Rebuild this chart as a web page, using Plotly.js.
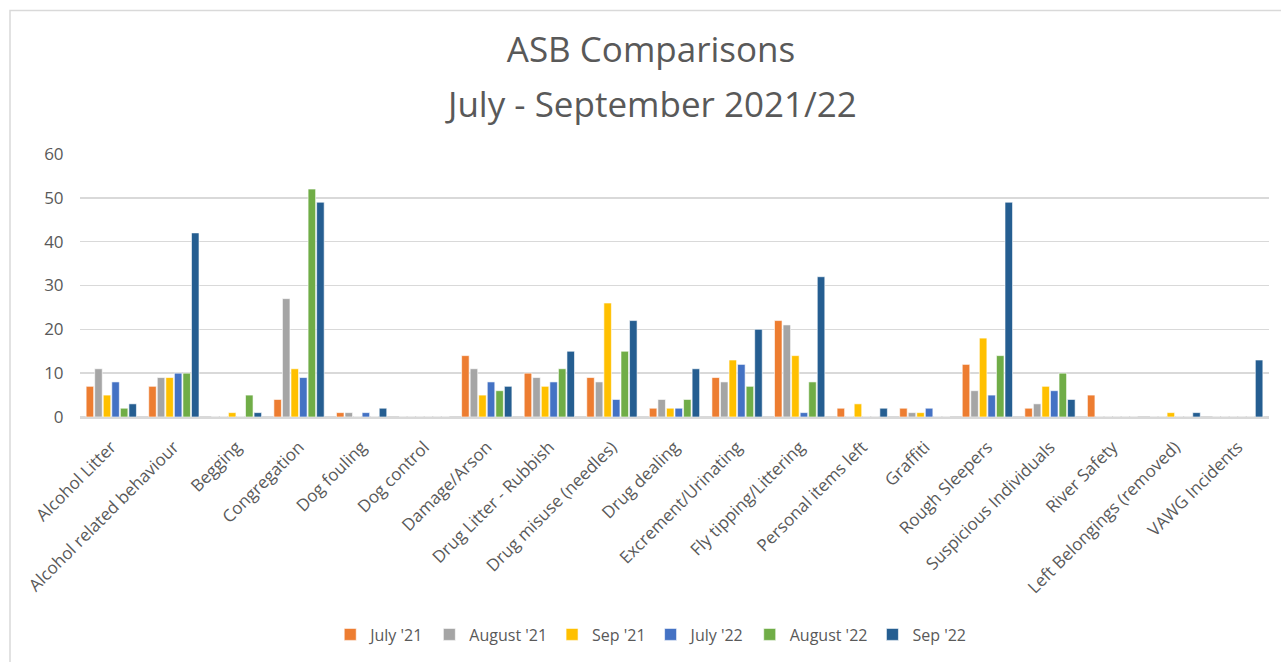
<!DOCTYPE html>
<html>
<head>
<meta charset="utf-8">
<script src="https://cdn.plot.ly/plotly-3.0.1.min.js"></script>
<style>
html,body{margin:0;padding:0;background:#fff;}
#chart{width:1281px;height:662px;}
</style>
</head>
<body>
<div id="chart"></div>
<script>
const categories = ["Alcohol Litter","Alcohol related behaviour","Begging","Congregation","Dog fouling","Dog control","Damage/Arson","Drug Litter - Rubbish","Drug misuse (needles)","Drug dealing","Excrement/Urinating","Fly tipping/Littering","Personal items left","Graffiti","Rough Sleepers","Suspicious Individuals","River Safety","Left Belongings (removed)","VAWG Incidents"];
const seriesNames = ["July '21","August '21","Sep '21","July '22","August '22","Sep '22"];
const july21   = [7, 7, 0, 4, 1, 0, 14, 10, 9, 2, 9, 22, 2, 2, 12, 2, 5, 0, 0];
const august21 = [11, 9, 0, 27, 1, 0, 11, 9, 8, 4, 8, 21, 0, 1, 6, 3, 0, 0, 0];
const sep21    = [5, 9, 1, 11, 0, 0, 5, 7, 26, 2, 13, 14, 3, 1, 18, 7, 0, 1, 0];
const july22   = [8, 10, 0, 9, 1, 0, 8, 8, 4, 2, 12, 1, 0, 2, 5, 6, 0, 0, 0];
const august22 = [2, 10, 5, 52, 0, 0, 6, 11, 15, 4, 7, 8, 0, 0, 14, 10, 0, 0, 0];
const sep22    = [3, 42, 1, 49, 2, 0, 7, 15, 22, 11, 20, 32, 2, 0, 49, 4, 0, 1, 13];
const titleLine1 = 'ASB Comparisons';
const titleLine2 = 'July - September 2021/22';
const colors = ["#ED7D31","#A5A5A5","#FFC000","#4472C4","#70AD47","#255E91"];
const allSeries = [july21, august21, sep21, july22, august22, sep22];

const traces = allSeries.map((vals, i) => ({
  type: 'bar',
  name: seriesNames[i],
  x: categories,
  y: vals,
  marker: {color: colors[i], line: {color: '#ffffff', width: 0.6}},
  hoverinfo: 'x+y+name'
}));

const layout = {
  width: 1281, height: 662,
  margin: {l: 80, r: 12, t: 154, b: 244},
  paper_bgcolor: '#ffffff', plot_bgcolor: '#ffffff',
  font: {family: 'Open Sans, sans-serif', color: '#595959'},
  title: {
    text: titleLine1,
    font: {size: 35, color: '#595959', family: 'Open Sans, sans-serif'},
    x: 651 / 1281, xanchor: 'center', xref: 'container',
    y: 1 - 50 / 662, yanchor: 'middle', yref: 'container'
  },
  annotations: [{
    text: titleLine2,
    xref: 'paper', yref: 'paper',
    x: (651 - 80) / 1189, xanchor: 'center',
    y: (418 - 103) / 264, yanchor: 'middle',
    showarrow: false,
    font: {size: 35, color: '#595959', family: 'Open Sans, sans-serif'}
  }],
  barmode: 'group',
  bargap: 0.18,
  bargroupgap: 0.12,
  xaxis: {
    type: 'category',
    tickangle: -45,
    tickfont: {size: 17, color: '#595959'},
    showgrid: false,
    showline: true, linecolor: '#d9d9d9', linewidth: 1.5,
    ticks: 'outside', ticklen: 12, tickcolor: 'rgba(0,0,0,0)',
    automargin: false
  },
  yaxis: {
    range: [0, 60],
    dtick: 10,
    tickfont: {size: 17, color: '#595959'},
    gridcolor: '#d9d9d9', gridwidth: 1.5,
    zeroline: true, zerolinecolor: '#d9d9d9', zerolinewidth: 1.5,
    showline: false, ticks: 'outside', ticklen: 12, tickcolor: 'rgba(0,0,0,0)',
    automargin: false
  },
  legend: {
    orientation: 'h',
    x: 0.48, xanchor: 'center',
    y: -0.82, yanchor: 'middle',
    font: {size: 16, color: '#595959'},
    itemwidth: 30,
    traceorder: 'normal'
  },
  shapes: [{
    type: 'rect', xref: 'paper', yref: 'paper',
    x0: (10 - 80) / 1189, x1: 1.05,
    y0: -2, y1: (418 - 10) / 264,
    line: {color: '#d9d9d9', width: 1.5},
    fillcolor: 'rgba(0,0,0,0)', layer: 'below'
  }],
  showlegend: true
};

Plotly.newPlot('chart', traces, layout, {displayModeBar: false, staticPlot: true});
</script>
</body>
</html>
